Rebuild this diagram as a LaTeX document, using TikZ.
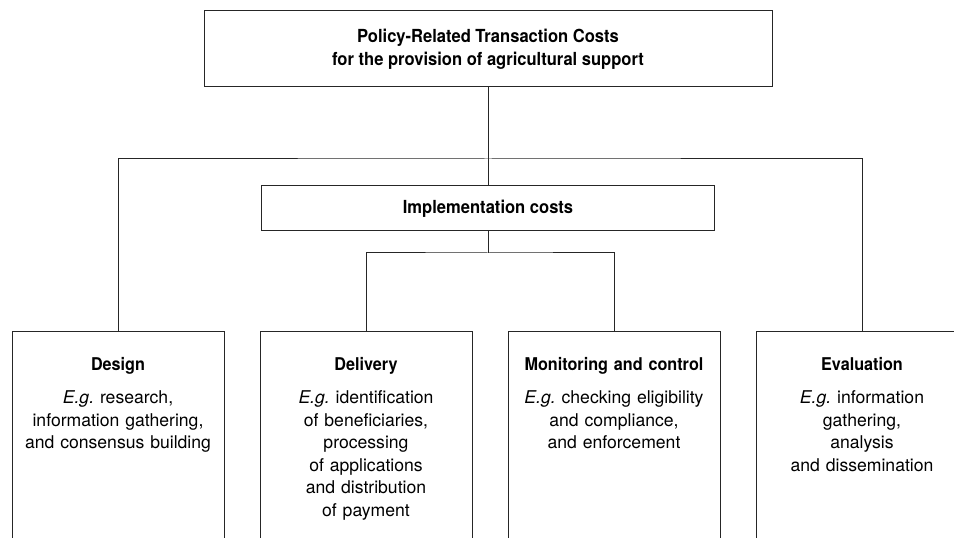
\documentclass[tikz,border=0pt]{standalone}
\usepackage{fontspec}
\setmainfont{TeX Gyre Heros}[BoldFeatures={FakeStretch=0.92}]
\usetikzlibrary{positioning}
\frenchspacing

\begin{document}
\begin{tikzpicture}[
  x=0.75pt,y=-0.75pt,
  node distance=26.25pt,
  line width=0.75pt,draw=black!85,
  head/.style={draw,inner sep=0pt,align=center,
    font=\fontsize{13.5}{17.3}\selectfont\bfseries},
  col/.style={draw,inner sep=0pt,minimum width=159pt,minimum height=195pt,anchor=north},
  coltext/.style={anchor=north,inner sep=0pt,align=center,text width=155pt,
    font=\fontsize{13.2}{16.9}\selectfont},
  link/.style={line width=0.75pt,black!85}
]
\clip (0,0) rectangle (954,538);

\node[head,minimum width=426pt,minimum height=57pt] (ptc) at (488,49)
  {Policy-Related Transaction Costs\\for the provision of agricultural support};
\node[head,minimum width=339.75pt,minimum height=33.75pt] (impl) at (488,208.5)
  {Implementation costs};

% cost columns
\node[col] (design) at (118,331) {};
\node[col,right=of design] (delivery) {};
\node[col,right=of delivery] (monitoring) {};
\node[col,right=of monitoring] (evaluation) {};

\node[coltext,below=19.5pt of design.north] (designtxt)
  {\textbf{Design}\\[8pt]\textit{E.g.} research,\\information gathering,\\and consensus building};
\node[coltext,below=19.5pt of delivery.north] (deliverytxt)
  {\textbf{Delivery}\\[8pt]\textit{E.g.} identification\\of beneficiaries,\\processing\\of applications\\and distribution\\of payment};
\node[coltext,below=19.5pt of monitoring.north] (monitoringtxt)
  {\textbf{Monitoring and control}\\[8pt]\textit{E.g.} checking eligibility\\and compliance,\\and enforcement};
\node[coltext,below=19.5pt of evaluation.north] (evaluationtxt)
  {\textbf{Evaluation}\\[8pt]\textit{E.g.} information\\gathering,\\analysis\\and dissemination};

% connectors
\coordinate (split) at (488,159);
\coordinate (subsplit) at (488,253);
\draw[link] (ptc) -- (impl);
\draw[link] (design.north) |- (split) -| (evaluation.north);
\draw[link] (impl) -- (subsplit);
\draw[link] (delivery.north) |- (subsplit) -| (monitoring.north);
\end{tikzpicture}
\end{document}
